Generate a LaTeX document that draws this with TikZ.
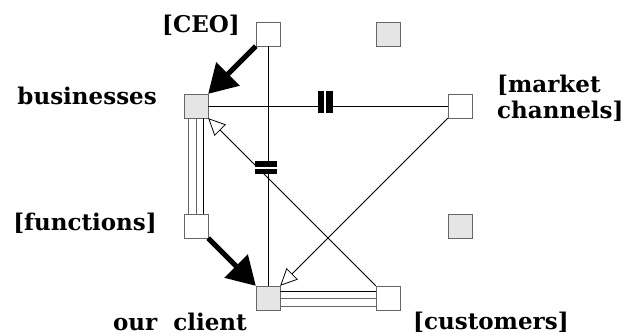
\documentclass[tikz,border=0pt]{standalone}
\usepackage{fontspec}
\setmainfont{DejaVu Serif}
\usetikzlibrary{arrows.meta,calc}
\tikzset{
	unit/.style={draw=black!60,fill=#1,minimum size=24pt,inner sep=0pt},
	unit/.default=white,
	lbl/.style={inner sep=0pt,font=\fontsize{23}{26}\selectfont\bfseries},
	bigarrow/.style={line width=5pt,-{Triangle[length=28pt,width=32pt]}},
	openarrow/.style={line width=0.8pt,-{Triangle[open,fill=white,length=17pt,width=16pt]}},
	cutbar/.style={fill=black,inner sep=0pt,minimum width=#1,
		path picture={\fill[white] ($(path picture bounding box.center)+(-1pt,-12pt)$) rectangle ($(path picture bounding box.center)+(1pt,12pt)$);}}
}

\begin{document}
\begin{tikzpicture}[x=1pt,y=-1pt]
\useasboundingbox (0,0) rectangle (624,336);
\node[unit] (ceo) at (268,34) {};
\node[unit=black!10] (top) at (388,34) {};
\node[unit=black!10] (biz) at (196,106) {};
\node[unit] (mkt) at (460,106) {};
\node[unit] (func) at (196,226) {};
\node[unit=black!10] (side) at (460,226) {};
\node[unit=black!10] (cli) at (268,298) {};
\node[unit] (cust) at (388,298) {};
\node[lbl,anchor=base east] (ceolbl) at (240,33) {[CEO]};
\node[lbl,anchor=base east] (bizlbl) at (157,105) {businesses};
\node[lbl,anchor=base east] (funclbl) at (157,231) {[functions]};
\node[lbl,anchor=base east] (clilbl) at (247,331) {our\ \ client};
\node[lbl,anchor=base west] (custlbl) at (413,330) {[customers]};
\node[lbl,anchor=west,align=left] (mktlbl) at (497,98) {[market\\channels]};
% plain links
\draw[line width=0.8pt] (ceo.south) -- (cli.north);
\draw[line width=0.8pt] (biz.east) -- (mkt.west);
\draw[openarrow] (cust.north west) -- (biz.south east);
\draw[openarrow] (mkt.south west) -- (cli.north east);
% triple links
\draw[black!60,line width=0.8pt] ([xshift=-8pt]biz.south) -- ([xshift=-8pt]func.north);
\draw[black!60,line width=0.8pt] (biz.south) -- (func.north);
\draw[line width=0.8pt] ([xshift=7pt]biz.south) -- ([xshift=7pt]func.north);
\draw[line width=0.8pt] ([yshift=7pt]cli.east) -- ([yshift=7pt]cust.west);
\draw[black!60,line width=0.8pt] (cli.east) -- (cust.west);
\draw[black!60,line width=0.8pt] ([yshift=-8pt]cli.east) -- ([yshift=-8pt]cust.west);
% cuts
\node[cutbar=15pt,minimum height=22pt] (cuth) at (325,102) {};
\node[cutbar=13pt,minimum height=22pt,rotate=90] (cutv) at (266,168) {};
% strong links
\draw[bigarrow] (ceo.south west) -- (biz.north east);
\draw[bigarrow] (func.south east) -- (cli.north west);
\end{tikzpicture}
\end{document}
